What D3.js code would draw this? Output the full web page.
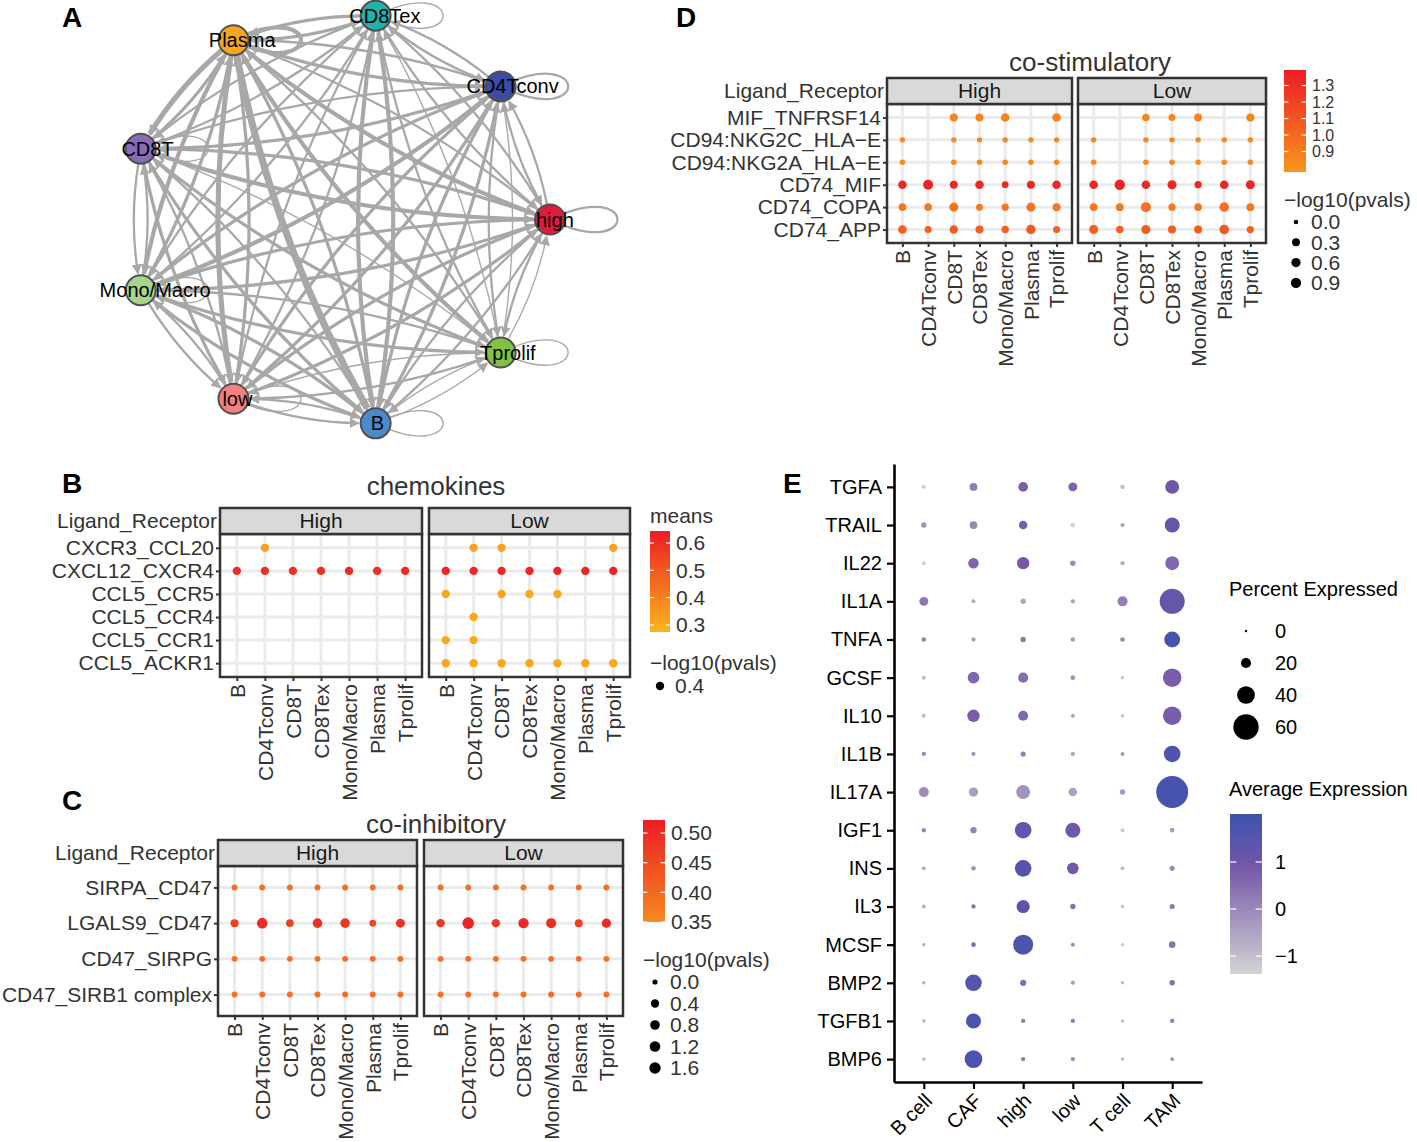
<!DOCTYPE html>
<html>
<head>
<meta charset="utf-8">
<script src="https://cdn.jsdelivr.net/npm/d3@7"></script>
<style>
  body { margin: 0; background: #fff; }
  svg { font-family: "Liberation Sans", Arial, sans-serif; }
</style>
</head>
<body>
<svg id="fig" width="1417" height="1142"></svg>
<script>
// ---------- data ----------
// A: cell-cell communication network (circle order, clockwise from the right)
const netNodes = ["high", "CD4Tconv", "CD8Tex", "Plasma", "CD8T", "Mono/Macro", "low", "B", "Tprolif"];
const netColors = ["#E01A3E", "#3A4CA6", "#1EB4AC", "#F6A61F", "#8A6CB6", "#A6D68A", "#F28080", "#4A8BCC", "#82C241"];
// rows = source, cols = target, diagonal = self loop
const netWeights = [
  [2, 2, 2, 2, 3, 3, 3, 2, 2],
  [2, 2, 2, 2, 2, 3, 3, 3, 2],
  [2, 2, 1, 3, 2, 2, 2, 4, 2],
  [4, 3, 3, 4, 5, 4, 5, 7, 4],
  [4, 3, 2, 3, 1, 2, 3, 3, 3],
  [3, 4, 2, 3, 2, 1, 2, 3, 3],
  [3, 3, 2, 3, 2, 2, 1, 2, 2],
  [2, 3, 4, 3, 2, 3, 2, 1, 1],
  [1, 1, 1, 2, 1, 2, 1, 1, 1]
];

// B, C, D: cellphone-style dot plots
const cellTypes = ["B", "CD4Tconv", "CD8T", "CD8Tex", "Mono/Macro", "Plasma", "Tprolif"];
const facets = ["High", "Low"];

const chemoPairs = ["CXCR3_CCL20", "CXCL12_CXCR4", "CCL5_CCR5", "CCL5_CCR4", "CCL5_CCR1", "CCL5_ACKR1"];
const chemoMeansHigh = [
  [null, 0.32, null, null, null, null, null],
  [0.60, 0.60, 0.59, 0.60, 0.61, 0.60, 0.61],
  [null, null, null, null, null, null, null],
  [null, null, null, null, null, null, null],
  [null, null, null, null, null, null, null],
  [null, null, null, null, null, null, null]
];
const chemoMeansLow = [
  [null, 0.32, 0.32, null, null, null, 0.32],
  [0.62, 0.62, 0.62, 0.62, 0.63, 0.62, 0.63],
  [0.31, null, 0.31, 0.31, 0.31, null, null],
  [null, 0.31, null, null, null, null, null],
  [0.31, 0.31, null, null, null, null, null],
  [0.31, 0.31, 0.31, 0.31, 0.31, 0.31, 0.31]
];
const chemoPval = 0.4;

const coinhPairs = ["SIRPA_CD47", "LGALS9_CD47", "CD47_SIRPG", "CD47_SIRB1 complex"];
const coinhMeansHigh = [
  [0.39, 0.39, 0.39, 0.39, 0.39, 0.39, 0.39],
  [0.47, 0.50, 0.47, 0.49, 0.48, 0.46, 0.49],
  [0.39, 0.39, 0.39, 0.39, 0.39, 0.39, 0.39],
  [0.39, 0.39, 0.39, 0.39, 0.39, 0.39, 0.39]
];
const coinhMeansLow = [
  [0.39, 0.39, 0.39, 0.39, 0.39, 0.39, 0.39],
  [0.48, 0.51, 0.48, 0.50, 0.49, 0.47, 0.50],
  [0.39, 0.39, 0.39, 0.39, 0.39, 0.39, 0.39],
  [0.39, 0.39, 0.39, 0.39, 0.39, 0.39, 0.39]
];
const coinhPvalsHigh = [
  [0.02, 0.02, 0.02, 0.02, 0.02, 0.02, 0.02],
  [0.32, 1.20, 0.24, 0.80, 0.80, 0.10, 0.60],
  [0.02, 0.02, 0.02, 0.02, 0.02, 0.02, 0.02],
  [0.02, 0.02, 0.02, 0.02, 0.02, 0.02, 0.02]
];
const coinhPvalsLow = [
  [0.02, 0.02, 0.02, 0.02, 0.02, 0.02, 0.02],
  [0.42, 1.70, 0.42, 1.10, 0.95, 0.32, 0.66],
  [0.02, 0.02, 0.02, 0.02, 0.02, 0.02, 0.02],
  [0.02, 0.02, 0.02, 0.02, 0.02, 0.02, 0.02]
];

const costimPairs = ["MIF_TNFRSF14", "CD94:NKG2C_HLA\u2212E", "CD94:NKG2A_HLA\u2212E", "CD74_MIF", "CD74_COPA", "CD74_APP"];
const costimMeansHigh = [
  [null, null, 0.86, 0.86, 0.87, null, 0.86],
  [0.85, null, 0.85, 0.85, 0.85, 0.85, 0.85],
  [0.85, null, 0.85, 0.85, 0.85, 0.85, 0.85],
  [1.34, 1.35, 1.33, 1.34, 1.32, 1.34, 1.34],
  [0.93, 0.93, 0.95, 0.93, 0.93, 0.95, 0.94],
  [1.06, 1.05, 1.07, 1.06, 1.05, 1.09, 1.05]
];
const costimMeansLow = [
  [null, null, 0.86, 0.86, 0.87, null, 0.86],
  [0.85, null, 0.85, 0.85, 0.85, 0.85, 0.85],
  [0.85, null, 0.85, 0.85, 0.85, 0.85, 0.85],
  [1.34, 1.36, 1.34, 1.35, 1.33, 1.35, 1.35],
  [0.93, 0.93, 0.96, 0.93, 0.94, 0.96, 0.94],
  [1.07, 1.05, 1.08, 1.06, 1.06, 1.10, 1.05]
];
const costimPvalsHigh = [
  [null, null, 0.32, 0.32, 0.44, null, 0.44],
  [0.02, null, 0.02, 0.02, 0.02, 0.02, 0.02],
  [0.02, null, 0.02, 0.02, 0.02, 0.02, 0.02],
  [0.44, 0.81, 0.32, 0.44, 0.13, 0.32, 0.44],
  [0.25, 0.25, 0.54, 0.16, 0.19, 0.54, 0.32],
  [0.44, 0.16, 0.40, 0.32, 0.22, 0.64, 0.16]
];
const costimPvalsLow = [
  [null, null, 0.25, 0.16, 0.32, null, 0.32],
  [0.02, null, 0.02, 0.02, 0.02, 0.02, 0.02],
  [0.02, null, 0.02, 0.02, 0.02, 0.02, 0.02],
  [0.44, 0.93, 0.44, 0.54, 0.19, 0.44, 0.54],
  [0.25, 0.28, 0.81, 0.19, 0.25, 0.69, 0.28],
  [0.54, 0.22, 0.54, 0.32, 0.32, 0.69, 0.19]
];

// E: cytokine dot plot
const cytoGenes = ["TGFA", "TRAIL", "IL22", "IL1A", "TNFA", "GCSF", "IL10", "IL1B", "IL17A", "IGF1", "INS", "IL3", "MCSF", "BMP2", "TGFB1", "BMP6"];
const cytoGroups = ["B cell", "CAF", "high", "low", "T cell", "TAM"];
const cytoPct = [
  [4, 14, 19, 17, 5, 30],
  [8, 14, 16, 6, 5, 33],
  [4, 21, 26, 8, 5, 30],
  [17, 4, 8, 5, 20, 59],
  [6, 5, 8, 6, 6, 35],
  [4, 24, 20, 6, 3, 42],
  [4, 26, 20, 4, 3, 42],
  [5, 5, 7, 5, 4, 37],
  [20, 18, 30, 16, 8, 77],
  [5, 10, 37, 33, 4, 6],
  [4, 6, 37, 24, 4, 7],
  [4, 5, 28, 8, 3, 7],
  [3, 6, 46, 4, 3, 11],
  [3, 37, 10, 4, 3, 8],
  [3, 33, 5, 5, 3, 5],
  [3, 40, 5, 5, 3, 4]
];
const cytoAvg = [
  [-1.2, 0.2, 0.8, 0.7, -0.9, 1.0],
  [-0.2, 0.0, 0.8, -1.4, -0.5, 1.2],
  [-1.3, 0.7, 0.9, -0.1, -0.6, 0.6],
  [0.3, -0.6, -0.6, -0.4, 0.2, 1.2],
  [0.1, -0.4, 0.3, -0.4, 0.0, 1.8],
  [-0.9, 0.6, 0.5, -0.2, -1.2, 0.8],
  [-0.9, 0.8, 0.6, -0.5, -1.1, 0.8],
  [0.0, -0.3, 0.2, -0.5, -0.3, 1.6],
  [-0.1, -0.4, -0.2, -0.4, -0.3, 1.8],
  [0.1, 0.1, 1.3, 1.0, -1.2, -0.4],
  [-0.6, -0.2, 1.5, 0.9, -0.9, 0.0],
  [-0.7, 0.4, 1.4, 0.4, -1.1, 0.3],
  [-0.7, 0.5, 1.6, 0.0, -1.3, 0.4],
  [-0.8, 1.5, 0.5, -0.3, -0.9, 0.5],
  [-0.8, 1.7, 0.3, 0.3, -1.0, 0.3],
  [-0.9, 1.7, 0.3, -0.1, -1.0, -0.1]
];

// ---------- drawing ----------
const svg = d3.select("#fig");
const defs = svg.append("defs");
const ink = "#333";

function label(txt, x, y, opts = {}) {
  return svg.append("text").attr("x", x).attr("y", y).attr("dy", "0.35em")
    .attr("font-size", opts.size || 21)
    .attr("font-weight", opts.weight || null)
    .attr("text-anchor", opts.anchor || "start")
    .attr("fill", opts.fill || ink)
    .text(txt);
}

// panel letters
[["A", 62, 17], ["B", 62, 483], ["C", 62, 800], ["D", 676, 17], ["E", 783, 483]].forEach(([t, x, y]) =>
  label(t, x, y, { size: 28, weight: "bold", fill: "#000" }));

// ---------- A ----------
const cx = 339, cy = 219.5, Rx = 211, Ry = 207, nodeR = 15;
const ang = d3.scaleLinear().domain([0, netNodes.length]).range([0, -2 * Math.PI]);
const nodes = netNodes.map((n, i) => ({ name: n, color: netColors[i], x: cx + Rx * Math.cos(ang(i)), y: cy + Ry * Math.sin(ang(i)) }));
const edgeW = d3.scaleLinear().domain([0, 7]).range([0.4, 7]);
const edgeCol = "#A8A8A8";

defs.append("marker").attr("id", "arr").attr("viewBox", "0 0 10 10")
  .attr("refX", 9).attr("refY", 5).attr("markerWidth", 10).attr("markerHeight", 10)
  .attr("markerUnits", "userSpaceOnUse").attr("orient", "auto")
  .append("path").attr("d", "M0,0L10,5L0,10z").attr("fill", edgeCol);

function unit(dx, dy) { const l = Math.hypot(dx, dy); return [dx / l, dy / l]; }

const edges = [];
netWeights.forEach((row, i) => row.forEach((w, j) => { if (i !== j && w > 0) edges.push({ s: nodes[i], t: nodes[j], w }); }));

const gA = svg.append("g");
gA.selectAll(".edge").data(edges).join("path")
  .attr("fill", "none").attr("stroke", edgeCol)
  .attr("stroke-width", d => edgeW(d.w))
  .attr("marker-end", "url(#arr)")
  .attr("d", d => {
    const { s, t } = d;
    const L = Math.hypot(t.x - s.x, t.y - s.y);
    const nx = -(t.y - s.y) / L, ny = (t.x - s.x) / L;
    const k = 0.08 * L;
    const mx = (s.x + t.x) / 2 + nx * k, my = (s.y + t.y) / 2 + ny * k;
    const a = unit(mx - s.x, my - s.y), b = unit(t.x - mx, t.y - my);
    return `M${s.x + a[0] * nodeR},${s.y + a[1] * nodeR}Q${mx},${my} ${t.x - b[0] * (nodeR + 2)},${t.y - b[1] * (nodeR + 2)}`;
  });

// self loops to the right of each node
gA.selectAll(".loop").data(nodes).join("path")
  .attr("fill", "none").attr("stroke", edgeCol)
  .attr("stroke-width", (d, i) => edgeW(netWeights[i][i]))
  .attr("d", d => `M${d.x},${d.y}C${d.x + 90},${d.y - 44} ${d.x + 90},${d.y + 44} ${d.x},${d.y}`);

gA.selectAll(".node").data(nodes).join("circle")
  .attr("cx", d => d.x).attr("cy", d => d.y).attr("r", nodeR)
  .attr("fill", d => d.color).attr("stroke", "#505050").attr("stroke-width", 2);

gA.selectAll(".nlab").data(nodes).join("text")
  .attr("x", d => d.x).attr("y", d => d.y).attr("dy", "0.35em")
  .attr("text-anchor", "middle").attr("font-size", 20).attr("fill", "#000")
  .text(d => d.name)
  .attr("dx", function () { return 0.13 * this.getComputedTextLength(); });

// ---------- B, C, D ----------
function dotFacets(o) {
  const g = svg.append("g");
  const y = d3.scalePoint().domain(o.rows).range([o.top, o.bottom]).padding(0.6);
  o.xr.forEach((xr, f) => {
    const x = d3.scalePoint().domain(cellTypes).range(xr).padding(0.6);
    const p = g.append("g");
    p.selectAll(".gh").data(o.rows).join("line")
      .attr("x1", xr[0]).attr("x2", xr[1]).attr("y1", d => y(d)).attr("y2", d => y(d))
      .attr("stroke", "#EBEBEB").attr("stroke-width", 3);
    p.selectAll(".gv").data(cellTypes).join("line")
      .attr("y1", o.top).attr("y2", o.bottom).attr("x1", d => x(d)).attr("x2", d => x(d))
      .attr("stroke", "#EBEBEB").attr("stroke-width", 3);
    const pts = o.rows.flatMap((r, i) => cellTypes.map((c, j) => ({
      r, c, m: o.means[f][i][j],
      p: typeof o.pvals === "number" ? o.pvals : o.pvals[f][i][j]
    }))).filter(d => d.m != null);
    p.selectAll(".dot").data(pts).join("circle")
      .attr("cx", d => x(d.c)).attr("cy", d => y(d.r))
      .attr("r", d => o.size(d.p)).attr("fill", d => o.color(d.m));
    p.append("rect").attr("x", xr[0]).attr("y", o.top).attr("width", xr[1] - xr[0]).attr("height", o.bottom - o.top)
      .attr("fill", "none").attr("stroke", ink).attr("stroke-width", 2.5);
    p.append("rect").attr("x", xr[0]).attr("y", o.strip).attr("width", xr[1] - xr[0]).attr("height", o.top - o.strip)
      .attr("fill", "#D9D9D9").attr("stroke", ink).attr("stroke-width", 2.5);
    p.append("text").attr("x", (xr[0] + xr[1]) / 2).attr("y", (o.strip + o.top) / 2).attr("dy", "0.35em")
      .attr("text-anchor", "middle").attr("font-size", 21).attr("fill", "#1A1A1A").text(facets[f]);
    const xa = p.append("g").attr("transform", `translate(0,${o.bottom})`).call(d3.axisBottom(x).tickSize(4));
    xa.select(".domain").remove();
    xa.selectAll("line").attr("stroke", ink).attr("stroke-width", 2);
    xa.selectAll("text").attr("transform", "rotate(-90)").attr("text-anchor", "end")
      .attr("x", -7).attr("y", 0).attr("dy", "0.35em").attr("font-size", 21).attr("fill", ink);
    if (f === 0) {
      const ya = p.append("g").attr("transform", `translate(${xr[0]},0)`).call(d3.axisLeft(y).tickSize(4).tickPadding(2));
      ya.select(".domain").remove();
      ya.selectAll("line").attr("stroke", ink).attr("stroke-width", 2);
      ya.selectAll("text").attr("font-size", 21).attr("fill", ink);
      g.append("text").attr("x", xr[0] - 3).attr("y", (o.strip + o.top) / 2).attr("dy", "0.35em")
        .attr("text-anchor", "end").attr("font-size", 21).attr("fill", ink).text("Ligand_Receptor");
    }
  });
  g.append("text").attr("x", o.titleX).attr("y", o.titleY).attr("dy", "0.35em")
    .attr("text-anchor", "middle").attr("font-size", 26).attr("fill", ink).text(o.title);
  g.selectAll("g").attr("font-family", null);
}

function colorBar(id, x0, y0, w, h, scale, ticks, fmt, fs) {
  const dom = scale.domain();
  const lo = dom[0], hi = dom[dom.length - 1];
  const grad = defs.append("linearGradient").attr("id", id).attr("x1", 0).attr("y1", 1).attr("x2", 0).attr("y2", 0);
  d3.range(0, 1.0001, 0.05).forEach(t => grad.append("stop").attr("offset", t).attr("stop-color", scale(lo + t * (hi - lo))));
  svg.append("rect").attr("x", x0).attr("y", y0).attr("width", w).attr("height", h).attr("fill", `url(#${id})`);
  const yb = d3.scaleLinear().domain([lo, hi]).range([y0 + h, y0]);
  ticks.forEach(v => {
    [[x0, x0 + w / 5], [x0 + w - w / 5, x0 + w]].forEach(([a, b]) =>
      svg.append("line").attr("x1", a).attr("x2", b).attr("y1", yb(v)).attr("y2", yb(v))
        .attr("stroke", "#fff").attr("stroke-width", 1.2));
    label(fmt(v), x0 + w + 6, yb(v), { size: fs || 21 });
  });
}

function sizeLegend(title, x0, yT, vals, y0, step, size, fmt, dotX) {
  label(title, x0, yT, { size: 21 });
  vals.forEach((v, i) => {
    svg.append("circle").attr("cx", dotX).attr("cy", y0 + i * step).attr("r", size(v)).attr("fill", "#000");
    label(fmt(v), dotX + 15, y0 + i * step, { size: 21 });
  });
}

// B
const colB = d3.scaleLinear().domain([0.274, 0.644]).range(["#FBB61B", "#EC1C24"]);
const sizeB = () => 4.2;
dotFacets({
  rows: chemoPairs, means: [chemoMeansHigh, chemoMeansLow], pvals: chemoPval,
  xr: [[220, 422], [429, 630]], strip: 508, top: 534, bottom: 677,
  color: colB, size: sizeB, title: "chemokines", titleX: 436, titleY: 486
});
label("means", 650, 516, { size: 21 });
colorBar("gB", 650, 531, 20, 101, colB, [0.3, 0.4, 0.5, 0.6], d3.format(".1f"));
sizeLegend("\u2212log10(pvals)", 650, 663, [0.4], 686, 21, sizeB, d3.format(".1f"), 660);

// C
const colC = d3.scaleLinear().domain([0.35, 0.522]).range(["#F6891F", "#EC1C24"]);
const sizeC = d3.scaleSqrt().domain([0, 1.8]).range([2.6, 5.9]);
dotFacets({
  rows: coinhPairs, means: [coinhMeansHigh, coinhMeansLow], pvals: [coinhPvalsHigh, coinhPvalsLow],
  xr: [[218, 417], [424, 623]], strip: 840, top: 866, bottom: 1016,
  color: colC, size: sizeC, title: "co-inhibitory", titleX: 436, titleY: 824
});
colorBar("gC", 643, 820, 22, 102, colC, [0.35, 0.40, 0.45, 0.50], d3.format(".2f"));
sizeLegend("\u2212log10(pvals)", 643, 960, [0, 0.4, 0.8, 1.2, 1.6], 982, 21.5, sizeC, d3.format(".1f"), 655);

// D
const colD = d3.scaleLinear().domain([0.776, 1.394]).range(["#F8961D", "#EC1C24"]);
const sizeD = d3.scaleSqrt().domain([0, 1.0]).range([2.3, 5.3]);
dotFacets({
  rows: costimPairs, means: [costimMeansHigh, costimMeansLow], pvals: [costimPvalsHigh, costimPvalsLow],
  xr: [[887, 1072], [1078, 1266]], strip: 78, top: 104, bottom: 243,
  color: colD, size: sizeD, title: "co-stimulatory", titleX: 1090, titleY: 62
});
colorBar("gD", 1284, 70, 22, 102, colD, [0.9, 1.0, 1.1, 1.2, 1.3], d3.format(".1f"), 16);
sizeLegend("\u2212log10(pvals)", 1284, 200, [0, 0.3, 0.6, 0.9], 222, 20.3, sizeD, d3.format(".1f"), 1296);

// ---------- E ----------
const xE = d3.scalePoint().domain(cytoGroups).range([894, 1202]).padding(0.6);
const yE = d3.scalePoint().domain(cytoGenes).range([464, 1082]).padding(0.6);
const rE = d3.scaleLinear().domain([0, 60]).range([1.2, 12.7]);
const cE = d3.scaleLinear().domain([-1.38, 0.9, 2.02]).range(["#D3D3D3", "#7557A9", "#3A53AE"]);

const gE = svg.append("g");
const ptsE = cytoGenes.flatMap((g, i) => cytoGroups.map((c, j) => ({ g, c, pct: cytoPct[i][j], avg: cytoAvg[i][j] })));
gE.selectAll("circle").data(ptsE).join("circle")
  .attr("cx", d => xE(d.c)).attr("cy", d => yE(d.g))
  .attr("r", d => rE(d.pct)).attr("fill", d => cE(d.avg));

const yaE = gE.append("g").attr("transform", "translate(894,0)").call(d3.axisLeft(yE).tickSize(7).tickSizeOuter(0).tickPadding(5));
const xaE = gE.append("g").attr("transform", "translate(0,1082)").call(d3.axisBottom(xE).tickSize(7).tickSizeOuter(0));
[yaE, xaE].forEach(a => {
  a.attr("font-size", null).attr("font-family", null);
  a.select(".domain").attr("stroke", "#000").attr("stroke-width", 2.6);
  a.selectAll("line").attr("stroke", "#000").attr("stroke-width", 2.2);
  a.selectAll("text").attr("font-size", 20).attr("fill", "#000");
});
xaE.selectAll("text").attr("text-anchor", "end").attr("x", 0).attr("y", 0).attr("dy", 0)
  .attr("transform", "translate(9,20) rotate(-45)");

label("Percent Expressed", 1229, 589, { size: 20, fill: "#000" });
[0, 20, 40, 60].forEach((v, i) => {
  svg.append("circle").attr("cx", 1246).attr("cy", 631 + i * 32).attr("r", rE(v)).attr("fill", "#000");
  label(v, 1275, 631 + i * 32, { size: 20, fill: "#000" });
});
label("Average Expression", 1229, 789, { size: 20, fill: "#000" });
colorBarE();
function colorBarE() {
  const lo = -1.38, hi = 2.02, x0 = 1230, y0 = 814, w = 32, h = 160;
  const grad = defs.append("linearGradient").attr("id", "gE").attr("x1", 0).attr("y1", 1).attr("x2", 0).attr("y2", 0);
  d3.range(0, 1.0001, 0.05).forEach(t => grad.append("stop").attr("offset", t).attr("stop-color", cE(lo + t * (hi - lo))));
  svg.append("rect").attr("x", x0).attr("y", y0).attr("width", w).attr("height", h).attr("fill", "url(#gE)");
  const yb = d3.scaleLinear().domain([lo, hi]).range([y0 + h, y0]);
  [-1, 0, 1].forEach(v => {
    [[x0, x0 + w / 5], [x0 + w - w / 5, x0 + w]].forEach(([a, b]) =>
      svg.append("line").attr("x1", a).attr("x2", b).attr("y1", yb(v)).attr("y2", yb(v)).attr("stroke", "#fff").attr("stroke-width", 1.2));
    label(v < 0 ? "\u2212" + Math.abs(v) : v, x0 + w + 13, yb(v), { size: 20, fill: "#000" });
  });
}
</script>
</body>
</html>
